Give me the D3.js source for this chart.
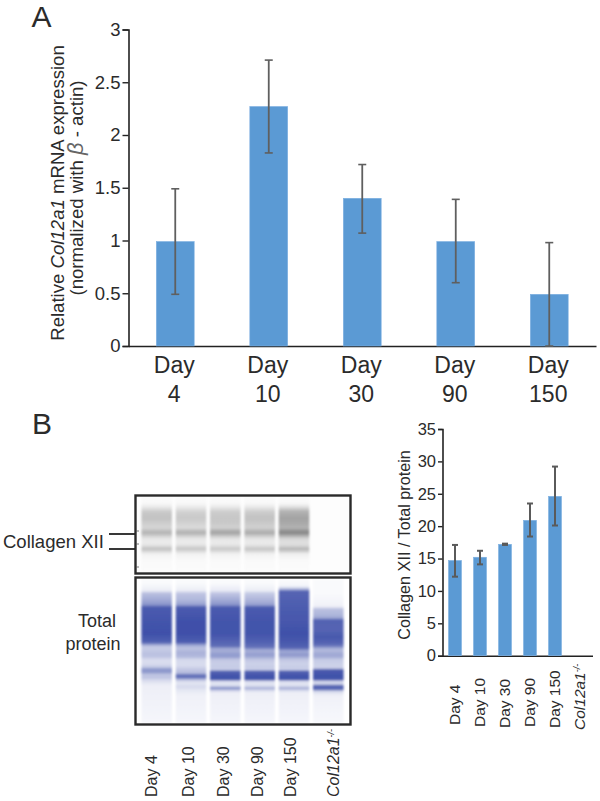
<!DOCTYPE html>
<html><head><meta charset="utf-8">
<script src="https://cdnjs.cloudflare.com/ajax/libs/d3/7.8.5/d3.min.js"></script>
<style>html,body{margin:0;padding:0;background:#fff}svg{display:block}text{font-family:"Liberation Sans",Arial,sans-serif;fill:#2b2b2b}</style>
</head><body><svg id="c" width="600" height="801"></svg>
<script>
// ---- data ----
const daysA = ["4","10","30","90","150"];
const expression = [0.99,2.27,1.40,0.99,0.49];
const expressionHigh = [1.49,2.71,1.72,1.39,0.98];
const expressionLow = [0.49,1.83,1.07,0.60,0.0];
const ticksA = [0,0.5,1,1.5,2,2.5,3];

const lanes = ["Day 4","Day 10","Day 30","Day 90","Day 150","Col12a1"];
const ratio = [14.7,15.2,17.2,20.9,24.6,0];
const ratioHigh = [17.1,16.2,17.3,23.5,29.2,null];
const ratioLow = [12.2,14.1,17.1,18.4,20.1,null];
const ticksB = [0,5,10,15,20,25,30,35];

// densitometry profiles: [migration %, intensity]
const collagenProfiles = [
 [[4,.02],[9,.03],[14,.1],[20,.21],[28,.24],[34,.2],[41,.16],[45,.25],[48,.3],[52,.18],[56,.09],[62,.08],[66,.15],[69,.25],[72,.17],[76,.05],[84,.025],[100,.015]],
 [[4,.02],[9,.03],[14,.09],[20,.18],[28,.21],[34,.18],[41,.14],[45,.26],[48,.31],[52,.18],[56,.09],[62,.08],[66,.15],[69,.23],[72,.15],[76,.05],[84,.025],[100,.015]],
 [[4,.02],[9,.03],[14,.1],[20,.2],[28,.22],[34,.21],[41,.18],[45,.31],[48,.36],[52,.21],[56,.1],[62,.08],[66,.14],[69,.22],[72,.15],[76,.05],[84,.025],[100,.015]],
 [[4,.02],[9,.03],[14,.1],[20,.2],[28,.24],[34,.21],[41,.18],[45,.28],[48,.33],[52,.2],[56,.1],[62,.08],[66,.14],[69,.23],[72,.16],[76,.05],[84,.025],[100,.015]],
 [[4,.02],[9,.03],[14,.14],[19,.3],[28,.36],[34,.34],[41,.3],[45,.42],[48,.48],[52,.3],[56,.15],[62,.12],[66,.18],[69,.3],[72,.2],[76,.06],[84,.025],[100,.015]],
 [[4,.008],[100,.008]]
];
const proteinProfiles = [
 [[3,.03],[8,.1],[10,.36],[15,.5],[18,.62],[19.5,.93],[30,.98],[38,1],[44,.9],[45.5,.55],[47,.3],[49,.3],[52,.36],[54,.34],[56,.2],[59,.2],[61,.3],[63,.62],[65,.55],[66.5,.32],[68.5,.34],[70.5,.2],[74,.09],[100,.05]],
 [[3,.03],[8,.1],[10,.33],[15,.42],[18,.55],[19.5,.93],[30,1],[38,1.05],[44,.92],[46,.5],[48,.34],[51,.44],[54,.4],[56,.22],[60,.2],[63,.32],[65.5,.4],[66.5,.8],[68.5,.8],[70,.34],[72,.14],[75,.22],[77,.14],[81,.08],[100,.05]],
 [[3,.03],[8,.12],[10,.33],[15,.5],[18,.62],[19.5,.93],[30,.98],[38,.98],[44,.88],[47,.82],[48,.52],[50,.46],[52,.56],[54,.56],[56,.32],[59,.28],[61,.3],[63,.28],[64,.88],[68,1],[70,.93],[71,.2],[73.5,.14],[75,.4],[76,.7],[77,.32],[79,.09],[100,.05]],
 [[3,.03],[8,.1],[10,.3],[15,.44],[18,.55],[19.5,.93],[30,.98],[38,.98],[44,.9],[47.5,.8],[49,.52],[50.5,.46],[52,.56],[54,.5],[56,.32],[59,.26],[61,.29],[63,.27],[64,.88],[68,1],[70,.93],[71,.2],[73.5,.14],[75,.3],[76,.48],[77,.24],[79,.09],[100,.05]],
 [[1,.03],[5,.06],[7,.4],[8.5,.88],[20,.93],[30,.96],[38,1],[44,.95],[48,.88],[49.5,.56],[51,.5],[52.5,.6],[54,.5],[56,.32],[59,.26],[61,.29],[63,.27],[64,.88],[68,1],[70,.93],[71,.2],[73.5,.14],[75,.3],[76,.5],[77,.24],[79,.09],[100,.05]],
 [[10,.03],[19,.08],[21,.36],[25,.42],[27,.5],[28.5,.9],[35,.88],[40,.95],[45,.88],[47,.7],[48.5,.42],[50,.4],[52,.5],[54,.48],[56,.3],[60,.26],[62,.28],[63,.93],[68,1.02],[70,.93],[71,.25],[73,.24],[74,.85],[76.5,.9],[78,.22],[81,.08],[100,.04]]
];

// ---- layout ----
const svg = d3.select("#c");
const ink = "#222";
function styleAxis(g, size){
  g.selectAll("path").attr("stroke",ink).attr("stroke-width",1.6);
  g.selectAll("line").attr("stroke",ink).attr("stroke-width",1.4);
  g.selectAll("text").attr("font-size",size).style("font-family",'"Liberation Sans",Arial,sans-serif').attr("fill","#2b2b2b");
}
function barPanel(o){
  const y = d3.scaleLinear().domain(o.domain).range([o.y0,o.y1]);
  const x = d3.scaleBand().domain(o.cats).range([o.x0,o.x1]).paddingInner(o.pad).paddingOuter(o.pad/2);
  const gx = svg.append("g").attr("transform",`translate(0,${o.y0})`)
    .call(d3.axisBottom(x).tickSize(0).tickFormat(""));
  svg.append("g").selectAll("rect").data(o.vals).join("rect")
    .attr("x",(d,i)=>x(o.cats[i])).attr("width",x.bandwidth())
    .attr("y",d=>y(d)).attr("height",d=>y(0)-y(d))
    .attr("fill","#5b9ad4").attr("stroke","#7db0e2").attr("stroke-width",.6);
  const eb = svg.append("g").attr("stroke",o.errColor).attr("stroke-width",o.errW).attr("fill","none");
  o.vals.forEach((v,i)=>{
    if(o.hi[i]==null) return;
    const cx = x(o.cats[i])+x.bandwidth()/2+(o.errDx||0);
    eb.append("line").attr("x1",cx).attr("x2",cx).attr("y1",y(o.hi[i])).attr("y2",y(o.lo[i]));
    [o.hi[i],o.lo[i]].forEach(e=>eb.append("line").attr("x1",cx-o.cap).attr("x2",cx+o.cap).attr("y1",y(e)).attr("y2",y(e)).attr("stroke-width",o.capW));
  });
  styleAxis(gx,o.fs);
  const gy = svg.append("g").attr("transform",`translate(${o.x0},0)`)
    .call(d3.axisLeft(y).tickValues(o.ticks).tickSize(o.tick).tickPadding(2).tickFormat(d=>String(d)));
  styleAxis(gy,o.fs);
  return {x,y};
}

// Panel A
const A = barPanel({cats:daysA,vals:expression,hi:expressionHigh,lo:expressionLow,domain:[0,3],ticks:ticksA,
  x0:128.5,x1:596,y0:346,y1:29.5,pad:.595,errColor:"#5f5f5f",errW:1.8,capW:1.6,cap:4,tick:6,fs:18.5});
const dayLabels = svg.append("g").attr("text-anchor","middle").attr("font-size",23);
daysA.forEach((d,i)=>{
  const cx = A.x(d)+A.x.bandwidth()/2;
  dayLabels.append("text").attr("x",cx-1).attr("y",373).text("Day");
  dayLabels.append("text").attr("x",cx-1).attr("y",402).text(d);
});
const yl = svg.append("text").attr("transform","translate(64,193) rotate(-90)").attr("text-anchor","middle").attr("font-size",18.6);
yl.append("tspan").text("Relative ");
yl.append("tspan").attr("font-style","italic").text("Col12a1");
yl.append("tspan").text(" mRNA expression");
const yl2 = svg.append("text").attr("transform","translate(83,188) rotate(-90)").attr("text-anchor","middle").attr("font-size",18.6);
yl2.append("tspan").text("(normalized with ");
yl2.append("tspan").attr("font-style","italic").attr("fill","#666").attr("font-size",22).text("β");
yl2.append("tspan").text(" - actin)");
svg.append("text").attr("x",31.5).attr("y",27).attr("font-size",30).text("A");
svg.append("text").attr("x",32).attr("y",434).attr("font-size",30).text("B");

// Panel B right
const B = barPanel({cats:lanes,vals:ratio,hi:ratioHigh,lo:ratioLow,domain:[0,35],ticks:ticksB,
  x0:442.5,x1:592.5,y0:655.7,y1:429,pad:.48,errColor:"#5a5a5a",errW:2,capW:2,cap:3,tick:4.5,fs:16.5});
function laneLabel(sel,name){
  if(name==="Col12a1"){
    sel.append("tspan").attr("font-style","italic").text("Col12a1");
    sel.append("tspan").attr("font-size",9).attr("font-style","italic").attr("dy",-5).text("-/-");
  } else sel.text(name);
}
lanes.forEach((d,i)=>{
  const cx = B.x(d)+B.x.bandwidth()/2+5;
  const t = svg.append("text").attr("transform",`translate(${cx},${[725,727,728,727,728,730][i]}) rotate(-90)`).attr("font-size",15.5);
  laneLabel(t,d);
});
svg.append("text").attr("transform","translate(410,545) rotate(-90)").attr("text-anchor","middle").attr("font-size",16.2).text("Collagen XII / Total protein");

// Gels
const laneX = d3.scaleBand().domain(lanes).range([139.5,345.5]).paddingInner(.11).paddingOuter(.055);
const gray = d3.scaleLinear().domain([0,1]).range(["#ffffff","#000000"]);
const blue = d3.scaleLinear().domain([0,1]).range(["#ffffff","#3f50a9"]).clamp(true);
const defs = svg.append("defs");
defs.append("filter").attr("id","soft").attr("x","-15%").attr("width","130%").attr("y","-5%").attr("height","110%")
  .append("feGaussianBlur").attr("stdDeviation","1.3 .9");
function gel(id,top,bottom,profiles,color,bg){
  const m = d3.scaleLinear().domain([0,100]).range([top,bottom]);
  svg.append("rect").attr("x",136).attr("y",top).attr("width",214).attr("height",bottom-top).attr("fill",bg);
  const g = svg.append("g").attr("filter","url(#soft)");
  profiles.forEach((p,i)=>{
    const gid = id+i;
    const lg = defs.append("linearGradient").attr("id",gid).attr("gradientUnits","userSpaceOnUse")
      .attr("x1",0).attr("x2",0).attr("y1",m(0)).attr("y2",m(100));
    p.forEach(s=>lg.append("stop").attr("offset",s[0]/100).attr("stop-color",color(s[1])));
    g.append("rect").attr("x",laneX(lanes[i])).attr("width",laneX.bandwidth()).attr("y",m(0)).attr("height",m(100)-m(0)).attr("fill",`url(#${gid})`);
  });
  svg.append("rect").attr("x",135.5).attr("y",top-1.5).attr("width",215).attr("height",bottom-top+3)
    .attr("fill","none").attr("stroke","#2a2a2a").attr("stroke-width",2.4);
}
gel("c",497,572,collagenProfiles,gray,"#fdfdfd");
gel("p",579,723,proteinProfiles,blue,"#ffffff");

// markers & labels
const marks = svg.append("g").attr("stroke",ink).attr("stroke-width",1.8);
[534,549].forEach(v=>marks.append("line").attr("x1",109).attr("x2",135).attr("y1",v).attr("y2",v));
[531,544,567].forEach(v=>marks.append("line").attr("x1",136).attr("x2",139).attr("y1",v).attr("y2",v).attr("stroke-width",.8).attr("stroke","#555"));
svg.append("text").attr("x",3).attr("y",548).attr("font-size",18.5).text("Collagen XII");
svg.append("text").attr("x",97).attr("y",627).attr("text-anchor","middle").attr("font-size",18).text("Total");
svg.append("text").attr("x",93).attr("y",650).attr("text-anchor","middle").attr("font-size",18).text("protein");
const gelLabelDx = [-5,-3,-2,-2,-4,5];
lanes.forEach((d,i)=>{
  const cx = laneX(d)+laneX.bandwidth()/2+gelLabelDx[i]+5.5;
  const t = svg.append("text").attr("transform",`translate(${cx},797) rotate(-90)`).attr("font-size",16);
  laneLabel(t,d);
});
</script></body></html>
